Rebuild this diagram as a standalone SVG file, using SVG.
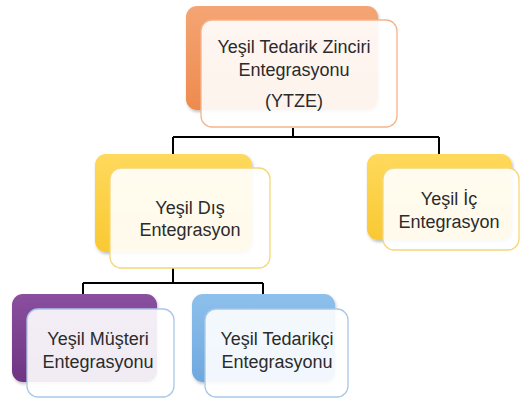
<svg xmlns="http://www.w3.org/2000/svg" width="525" height="401" viewBox="0 0 525 401">
<defs>
<linearGradient id="gOrange" x1="0" y1="0" x2="0" y2="1"><stop offset="0" stop-color="#F4A574"/><stop offset="1" stop-color="#EE8A4E"/></linearGradient>
<linearGradient id="gYellow" x1="0" y1="0" x2="0" y2="1"><stop offset="0" stop-color="#FFD95C"/><stop offset="1" stop-color="#F9C933"/></linearGradient>
<linearGradient id="gPurple" x1="0" y1="0" x2="0" y2="1"><stop offset="0" stop-color="#8A4F9E"/><stop offset="1" stop-color="#6E3483"/></linearGradient>
<linearGradient id="gBlue" x1="0" y1="0" x2="0" y2="1"><stop offset="0" stop-color="#8DC0EC"/><stop offset="1" stop-color="#6FA8DF"/></linearGradient>
<filter id="sh" x="-10%" y="-10%" width="130%" height="130%"><feDropShadow dx="1" dy="2" stdDeviation="1.5" flood-color="#000" flood-opacity="0.25"/></filter>
</defs>
<style>
.back{filter:url(#sh)}
.front{fill:#FFFFFF;fill-opacity:0.9;stroke-width:1.3}
.conn{fill:none;stroke:#000;stroke-width:2}
text{font-family:"Liberation Sans",Arial,sans-serif;font-size:18px;fill:#2B2B2B;text-anchor:middle}
</style>
<g id="connectors">
<path class="conn" d="M293,128 V137 M173,137 H439 M173,137 V168 M439,137 V154 M173,268 V283 M83,283 H263 M83,283 V294 M263,283 V294"/>
</g>
<g id="ytze">
<rect class="back" x="186" y="6" width="192" height="104" rx="11" fill="url(#gOrange)"/>
<rect class="front" x="201" y="20" width="196" height="107" rx="11" stroke="#F4B48A"/>
<text x="294" y="53">Yeşil Tedarik Zinciri</text>
<text x="294" y="76">Entegrasyonu</text>
<text x="294" y="107">(YTZE)</text>
</g>
<g id="dis">
<rect class="back" x="95" y="154" width="157" height="98" rx="11" fill="url(#gYellow)"/>
<rect class="front" x="110" y="168" width="160" height="100" rx="11" stroke="#F5D77A"/>
<text x="190" y="214">Yeşil Dış</text>
<text x="190" y="236">Entegrasyon</text>
</g>
<g id="ic">
<rect class="back" x="367" y="154" width="145" height="86" rx="11" fill="url(#gYellow)"/>
<rect class="front" x="383" y="168" width="136" height="82" rx="11" stroke="#F5D77A"/>
<text x="449" y="205">Yeşil İç</text>
<text x="449" y="228">Entegrasyon</text>
</g>
<g id="musteri">
<rect class="back" x="12" y="294" width="145" height="88" rx="11" fill="url(#gPurple)"/>
<rect class="front" x="27" y="309" width="147" height="88" rx="11" stroke="#A9C8E8"/>
<text x="98" y="345">Yeşil Müşteri</text>
<text x="98" y="368">Entegrasyonu</text>
</g>
<g id="tedarikci">
<rect class="back" x="192" y="294" width="143" height="88" rx="11" fill="url(#gBlue)"/>
<rect class="front" x="205" y="309" width="143" height="88" rx="11" stroke="#A9C8E8"/>
<text x="277" y="345">Yeşil Tedarikçi</text>
<text x="277" y="368">Entegrasyonu</text>
</g>
</svg>
